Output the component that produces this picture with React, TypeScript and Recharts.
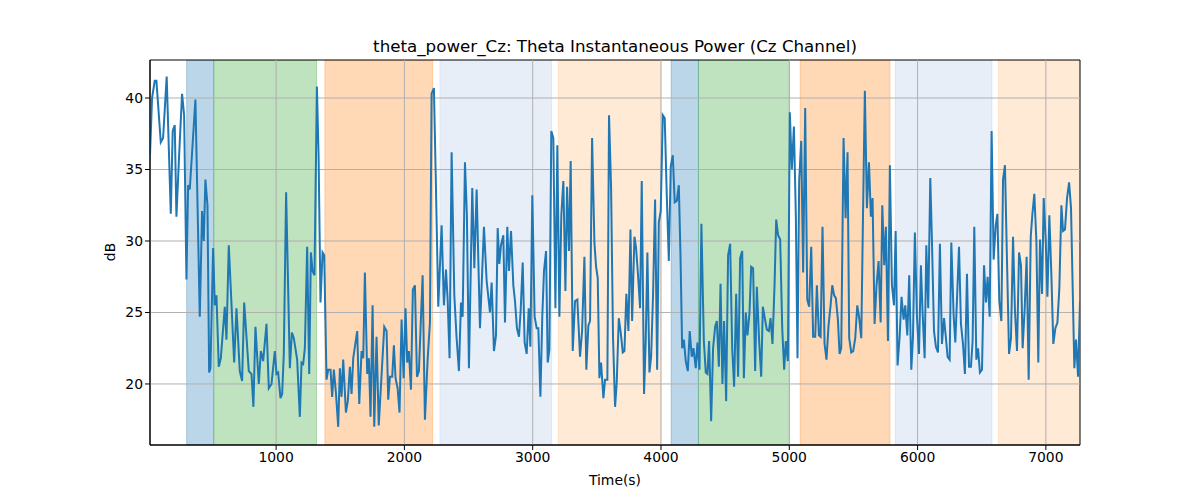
import React from 'react';
import { LineChart, Line, XAxis, YAxis, ReferenceArea, ReferenceLine } from 'recharts';

// time in seconds, theta power in dB
const times = [
  17, 33, 54, 67, 101, 119, 147, 179, 194, 210, 223, 244, 267, 283, 301, 314, 327, 371, 405, 423,
  436, 449, 465, 478, 488, 509, 522, 535, 553, 569, 600, 613, 631, 673, 691, 717, 735, 751, 787, 808,
  823, 839, 865, 881, 899, 912, 925, 943, 964, 990, 1003, 1016, 1034, 1047, 1060, 1078, 1107, 1123, 1138, 1164,
  1185, 1198, 1211, 1224, 1242, 1258, 1271, 1284, 1299, 1318, 1331, 1346, 1362, 1375, 1393, 1406, 1424, 1437, 1450, 1466,
  1484, 1497, 1510, 1523, 1544, 1559, 1575, 1588, 1601, 1632, 1648, 1666, 1679, 1692, 1710, 1723, 1736, 1752, 1765, 1783,
  1800, 1843, 1861, 1874, 1887, 1905, 1918, 1931, 1947, 1962, 1978, 1994, 2009, 2022, 2035, 2051, 2066, 2082, 2098, 2113,
  2126, 2142, 2160, 2181, 2199, 2212, 2230, 2246, 2264, 2290, 2308, 2324, 2337, 2352, 2368, 2389, 2407, 2425, 2441, 2454,
  2472, 2487, 2503, 2529, 2545, 2563, 2589, 2620, 2641, 2667, 2680, 2698, 2714, 2727, 2740, 2753, 2771, 2784, 2802, 2815,
  2831, 2849, 2862, 2877, 2893, 2906, 2922, 2937, 2953, 2969, 2982, 2997, 3015, 3031, 3044, 3060, 3075, 3088, 3104, 3117,
  3130, 3145, 3161, 3177, 3192, 3208, 3223, 3239, 3255, 3268, 3283, 3296, 3312, 3330, 3348, 3369, 3385, 3403, 3418, 3434,
  3447, 3463, 3481, 3494, 3507, 3520, 3533, 3551, 3564, 3582, 3595, 3611, 3626, 3642, 3655, 3671, 3686, 3702, 3715, 3730,
  3746, 3762, 3775, 3793, 3806, 3821, 3837, 3850, 3868, 3881, 3894, 3910, 3923, 3938, 3954, 3970, 3983, 3998, 4014, 4029,
  4045, 4061, 4076, 4092, 4107, 4123, 4139, 4152, 4165, 4178, 4193, 4209, 4224, 4240, 4253, 4271, 4284, 4300, 4315, 4334,
  4349, 4362, 4375, 4391, 4406, 4422, 4435, 4451, 4464, 4479, 4492, 4508, 4523, 4539, 4555, 4570, 4586, 4601, 4617, 4633,
  4646, 4661, 4674, 4690, 4703, 4718, 4734, 4747, 4765, 4781, 4794, 4809, 4825, 4841, 4854, 4869, 4885, 4898, 4913, 4929,
  4945, 4960, 4973, 4989, 5004, 5020, 5036, 5051, 5064, 5077, 5093, 5108, 5124, 5140, 5155, 5171, 5186, 5202, 5215, 5231,
  5244, 5259, 5275, 5290, 5306, 5322, 5335, 5350, 5363, 5379, 5392, 5405, 5423, 5439, 5454, 5467, 5483, 5498, 5514, 5530,
  5545, 5561, 5574, 5589, 5605, 5621, 5636, 5649, 5665, 5680, 5696, 5712, 5725, 5740, 5753, 5769, 5784, 5800, 5816, 5829,
  5844, 5860, 5875, 5891, 5904, 5920, 5935, 5951, 5964, 5979, 5995, 6011, 6026, 6039, 6055, 6068, 6083, 6099, 6112, 6128,
  6143, 6159, 6174, 6190, 6206, 6219, 6234, 6250, 6263, 6281, 6294, 6323, 6338, 6354, 6369, 6385, 6401, 6416, 6429, 6442,
  6458, 6471, 6486, 6502, 6518, 6533, 6546, 6562, 6577, 6593, 6609, 6622, 6637, 6653, 6666, 6681, 6697, 6713, 6728, 6744,
  6759, 6775, 6791, 6806, 6819, 6835, 6850, 6866, 6882, 6895, 6910, 6926, 6941, 6954, 6970, 6983, 6999, 7012, 7027, 7043,
  7058, 7074, 7090, 7105, 7121, 7134, 7149, 7165, 7181, 7196, 7209, 7222, 7235, 7251, 7266,
];

const dbValues = [
  36.0, 40.0, 41.2, 41.2, 36.9, 37.2, 41.5, 31.9, 37.7, 38.1, 31.7, 36.0, 40.3, 38.8, 27.3, 33.9, 33.6, 39.9, 24.7, 32.1,
  30.0, 34.3, 32.5, 20.8, 21.1, 29.5, 25.5, 26.2, 21.2, 21.8, 25.4, 23.1, 29.7, 21.5, 25.3, 20.9, 20.2, 25.7, 20.9, 20.7,
  18.4, 24.0, 20.0, 22.3, 21.6, 22.9, 24.2, 19.7, 20.0, 22.3, 20.7, 20.8, 19.0, 19.3, 22.1, 33.4, 21.1, 23.6, 23.2, 21.7,
  17.7, 21.5, 21.4, 22.5, 29.6, 20.7, 29.2, 27.9, 27.6, 40.8, 36.0, 25.7, 29.2, 29.0, 20.3, 21.0, 21.0, 19.1, 21.0, 19.4,
  17.0, 21.1, 19.1, 21.7, 18.0, 18.8, 21.2, 19.3, 21.8, 23.7, 18.6, 22.3, 21.8, 27.8, 20.7, 21.8, 17.7, 25.5, 17.0, 23.3,
  17.1, 24.0, 23.7, 18.9, 20.5, 20.5, 22.7, 20.4, 19.7, 18.0, 24.5, 20.4, 25.3, 21.5, 22.3, 19.6, 26.6, 26.9, 20.5, 20.9,
  23.9, 27.6, 17.5, 21.7, 24.3, 40.3, 40.7, 33.7, 25.4, 31.1, 25.5, 28.0, 25.9, 21.8, 36.2, 26.2, 23.2, 20.9, 25.7, 24.7,
  35.5, 31.8, 21.1, 33.7, 28.1, 33.6, 23.9, 31.0, 27.2, 25.0, 27.1, 22.3, 23.4, 30.9, 28.4, 29.7, 30.4, 24.3, 31.0, 27.9,
  30.7, 26.9, 25.8, 23.9, 23.3, 25.1, 28.5, 22.9, 22.1, 25.3, 22.6, 33.2, 24.7, 23.9, 23.9, 19.1, 24.8, 27.9, 29.3, 21.5,
  22.4, 37.7, 37.2, 25.3, 36.7, 24.7, 31.8, 34.2, 26.5, 33.8, 29.3, 35.6, 22.3, 25.8, 25.9, 21.9, 23.7, 28.9, 21.0, 24.1,
  24.4, 37.2, 29.9, 28.2, 27.4, 20.4, 21.5, 19.0, 20.3, 20.3, 38.8, 33.7, 23.3, 18.4, 20.1, 24.6, 23.6, 22.2, 22.3, 26.3,
  23.7, 30.8, 24.4, 30.3, 29.5, 27.6, 25.3, 34.2, 19.3, 23.0, 29.2, 20.8, 21.9, 26.2, 32.9, 21.0, 31.3, 32.1, 38.8, 38.6,
  33.2, 28.6, 35.2, 36.0, 32.7, 32.8, 33.9, 29.0, 22.5, 23.1, 21.6, 20.9, 23.7, 21.9, 22.5, 21.1, 22.9, 21.0, 31.2, 23.0,
  20.8, 20.7, 23.0, 17.4, 22.5, 24.0, 24.4, 21.2, 27.0, 20.0, 24.4, 18.8, 29.0, 29.8, 22.5, 19.8, 26.3, 20.5, 28.8, 29.3,
  20.4, 25.0, 23.4, 25.0, 28.2, 28.1, 20.9, 26.8, 23.0, 20.5, 25.4, 24.6, 23.8, 23.7, 24.6, 22.8, 26.9, 31.5, 30.4, 30.1,
  23.9, 21.0, 23.0, 21.6, 39.0, 35.0, 38.0, 31.8, 21.8, 34.2, 37.0, 27.8, 39.3, 25.9, 25.4, 29.6, 23.3, 23.3, 26.9, 23.4,
  23.3, 31.0, 22.8, 21.7, 24.1, 25.5, 26.9, 26.2, 26.0, 24.5, 22.1, 22.5, 37.2, 31.6, 36.2, 23.2, 22.2, 22.3, 23.2, 25.5,
  24.6, 23.2, 31.4, 40.5, 32.3, 35.5, 31.7, 33.0, 24.2, 26.9, 28.6, 24.3, 32.5, 28.3, 31.0, 23.0, 35.3, 26.9, 25.5, 30.7,
  21.3, 23.3, 26.1, 24.5, 25.5, 23.4, 27.6, 21.0, 23.3, 30.6, 24.7, 22.1, 28.3, 25.0, 21.8, 29.7, 25.3, 34.4, 30.0, 23.7,
  22.6, 22.2, 29.8, 22.8, 24.6, 23.4, 21.9, 21.7, 29.9, 24.8, 22.9, 29.6, 24.2, 22.8, 20.7, 27.7, 21.2, 21.2, 23.0, 31.0,
  21.7, 22.5, 20.8, 21.0, 28.3, 25.7, 27.5, 24.7, 37.7, 28.7, 31.1, 31.9, 25.8, 24.4, 34.3, 35.3, 28.6, 22.1, 23.2, 30.3,
  25.1, 22.3, 29.2, 28.3, 22.5, 25.3, 28.9, 20.3, 30.3, 31.9, 33.3, 30.0, 21.5, 30.1, 26.3, 33.0, 30.0, 26.1, 31.8, 27.6,
  22.8, 23.9, 24.3, 26.7, 32.5, 30.7, 30.8, 33.0, 34.1, 32.3, 26.7, 21.1, 23.1, 20.5, 25.8,
];

// shaded task segments
const spanStarts = [303, 514, 1380, 2277, 3200, 4079, 4292, 5085, 5826, 6630];
const spanEnds = [514, 1315, 2220, 3148, 3998, 4292, 5002, 5785, 6580, 7266];
const spanColors = ['#1f77b4', '#2ca02c', '#ff7f0e', '#aec7e8', '#ffbb78', '#1f77b4', '#2ca02c', '#ff7f0e', '#aec7e8', '#ffbb78'];

const xTicks = [1000, 2000, 3000, 4000, 5000, 6000, 7000];
const yTicks = [20, 25, 30, 35, 40];

const X_MIN = 17;
const X_MAX = 7266;
const Y_MIN = 15.73;
const Y_MAX = 42.66;

const data = times.map((t, i) => ({ t, db: dbValues[i] }));

const font = '"DejaVu Sans", sans-serif';

export default function App() {
  return (
    <div style={{ position: 'absolute', left: 0, top: 0, width: 1200, height: 500, background: '#fff', fontFamily: font }}>
      <div style={{ position: 'absolute', left: 150, width: 930, top: 36, textAlign: 'center', fontSize: 16.7, color: '#000', lineHeight: '20px' }}>
        theta_power_Cz: Theta Instantaneous Power (Cz Channel)
      </div>
      <div style={{ position: 'absolute', left: 150, width: 930, top: 472, textAlign: 'center', fontSize: 13.9, color: '#000' }}>
        Time(s)
      </div>
      <div style={{ position: 'absolute', left: 110, top: 252, transform: 'translate(-50%, -50%) rotate(-90deg)', fontSize: 13.9, color: '#000' }}>
        dB
      </div>
      <LineChart width={1200} height={500} data={data} margin={{ top: 60, right: 120, bottom: 25, left: 100 }}>
        {spanStarts.map((s, i) => (
          <ReferenceArea
            key={'span' + i}
            x1={s}
            x2={spanEnds[i]}
            y1={Y_MIN}
            y2={Y_MAX}
            fill={spanColors[i]}
            fillOpacity={0.3}
            stroke={spanColors[i]}
            strokeOpacity={0.3}
            ifOverflow="hidden"
          />
        ))}
        {xTicks.map((t) => (
          <ReferenceLine key={'gx' + t} x={t} stroke="#b0b0b0" strokeWidth={1} />
        ))}
        {yTicks.map((t) => (
          <ReferenceLine key={'gy' + t} y={t} stroke="#b0b0b0" strokeWidth={1} />
        ))}
        <XAxis
          dataKey="t"
          type="number"
          domain={[X_MIN, X_MAX]}
          ticks={xTicks}
          allowDataOverflow
          height={30}
          tickSize={5}
          axisLine={{ stroke: '#000' }}
          tickLine={{ stroke: '#000' }}
          tick={{ fill: '#000', fontSize: 13.9, fontFamily: font }}
        />
        <YAxis
          type="number"
          domain={[Y_MIN, Y_MAX]}
          ticks={yTicks}
          allowDataOverflow
          width={50}
          tickSize={5}
          axisLine={{ stroke: '#000' }}
          tickLine={{ stroke: '#000' }}
          tick={{ fill: '#000', fontSize: 13.9, fontFamily: font }}
        />
        <Line
          type="linear"
          dataKey="db"
          stroke="#1f77b4"
          strokeWidth={2}
          dot={false}
          activeDot={false}
          isAnimationActive={false}
        />
        <ReferenceArea x1={X_MIN} x2={X_MAX} y1={Y_MIN} y2={Y_MAX} fill="none" stroke="#000" strokeWidth={1} />
      </LineChart>
    </div>
  );
}
